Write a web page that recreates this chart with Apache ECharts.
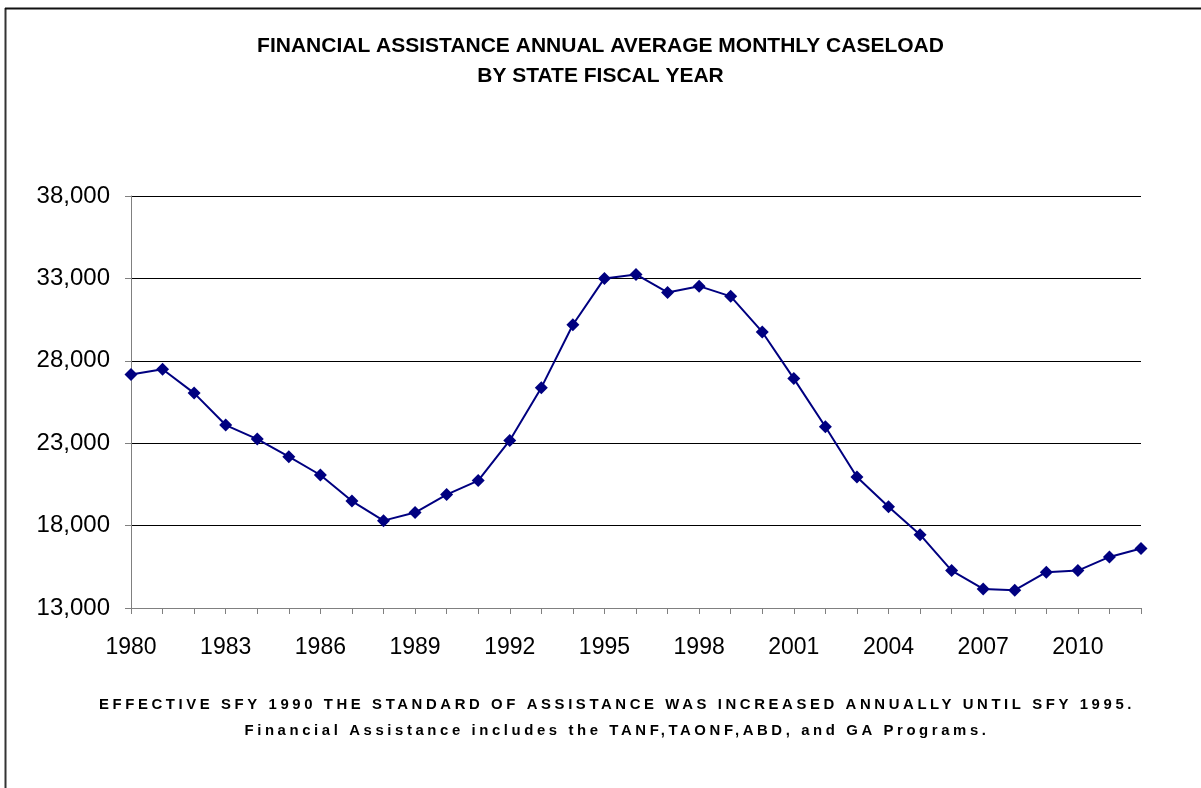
<!DOCTYPE html>
<html>
<head>
<meta charset="utf-8">
<script src="https://cdn.jsdelivr.net/npm/echarts@6/dist/echarts.min.js"></script>
<style>
html,body{margin:0;padding:0;background:#fff;}
#chart{width:1201px;height:788px;}
</style>
</head>
<body>
<div id="chart"></div>
<script>
var years = ['1980','1981','1982','1983','1984','1985','1986','1987','1988','1989','1990','1991','1992','1993','1994','1995','1996','1997','1998','1999','2000','2001','2002','2003','2004','2005','2006','2007','2008','2009','2010','2011','2012'];
var caseload = [27170,27490,26040,24100,23250,22180,21070,19490,18300,18790,19880,20730,23170,26370,30190,33000,33240,32150,32530,31910,29750,26920,24000,20950,19150,17450,15270,14160,14080,15170,15270,16100,16610];
var yTicks = {min:13000, max:38000, interval:5000};
var titleLines = ['FINANCIAL ASSISTANCE ANNUAL AVERAGE MONTHLY CASELOAD','BY STATE FISCAL YEAR'];
var footLines = ['EFFECTIVE SFY 1990 THE STANDARD OF ASSISTANCE WAS INCREASED ANNUALLY UNTIL SFY 1995.','Financial Assistance includes the TANF,TAONF,ABD, and GA Programs.'];

// spaced-out footnote lettering (as in the reference), only for the footnote font size
(function(){
  var P = CanvasRenderingContext2D.prototype;
  var orig = P.fillText;
  P.fillText = function(t, x, y, m){
    var f = this.font || '';
    if (f.indexOf('14.9px') >= 0 && ('letterSpacing' in this)) {
      this.save();
      this.letterSpacing = '3.6px';
      if (m === undefined) orig.call(this, t, x, y); else orig.call(this, t, x, y, m);
      this.restore();
    } else {
      if (m === undefined) orig.call(this, t, x, y); else orig.call(this, t, x, y, m);
    }
  };
})();

var chart = echarts.init(document.getElementById('chart'), null, {renderer:'canvas'});
var font = 'Liberation Sans, Arial, sans-serif';
chart.setOption({
  backgroundColor:'#fff',
  animation:false,
  title:[
    {text:titleLines.join('\n'), left:'center', top:26,
     textStyle:{fontFamily:font, fontWeight:'bold', fontSize:21, lineHeight:30, color:'#000'}}
  ],
  grid:{left:131, right:60, top:196, bottom:180, containLabel:false},
  xAxis:{
    type:'category', data:years, boundaryGap:false,
    axisLine:{lineStyle:{color:'#808080', width:1}},
    axisTick:{show:true, inside:false, length:6, interval:0, lineStyle:{color:'#808080'}},
    axisLabel:{interval:2, margin:28, fontFamily:font, fontSize:23, color:'#000'},
    splitLine:{show:false}
  },
  yAxis:{
    type:'value', min:yTicks.min, max:yTicks.max, interval:yTicks.interval,
    axisLine:{show:true, lineStyle:{color:'#808080', width:1}},
    axisTick:{show:true, inside:false, length:6, lineStyle:{color:'#808080'}},
    axisLabel:{margin:21, fontFamily:font, fontSize:24, color:'#000',
      formatter:function(v){return v.toLocaleString('en-US');}},
    splitLine:{show:true, lineStyle:{color:'#000', width:1}}
  },
  series:[{
    type:'line', data:caseload,
    symbol:'diamond', symbolSize:13,
    lineStyle:{color:'#000080', width:2},
    itemStyle:{color:'#000080'}
  }],
  graphic:[
    {type:'line', shape:{x1:5.5, y1:8, x2:5.5, y2:788}, style:{stroke:'#333', lineWidth:2}},
    {type:'line', shape:{x1:5, y1:8.5, x2:1201, y2:8.5}, style:{stroke:'#111', lineWidth:2}},
    {type:'text', x:617, y:705,
     style:{text:footLines[0], font:'bold 14.9px '+font, fill:'#000', textAlign:'center', textVerticalAlign:'middle'}},
    {type:'text', x:617, y:731,
     style:{text:footLines[1], font:'bold 14.9px '+font, fill:'#000', textAlign:'center', textVerticalAlign:'middle'}}
  ]
});
</script>
</body>
</html>
